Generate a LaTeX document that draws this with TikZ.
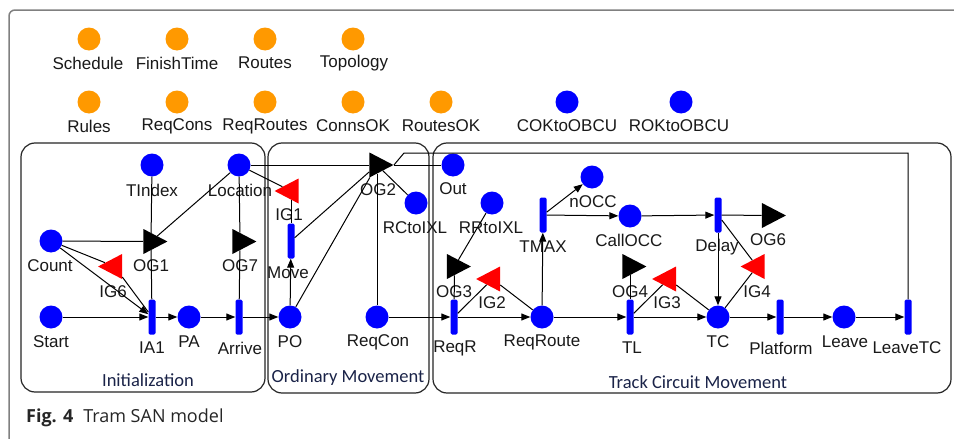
\documentclass[tikz,border=0pt]{standalone}
\usepackage{fontspec}
\setmainfont{Liberation Sans}
\newfontfamily\secfont{Carlito}
\newfontfamily\capfont{Open Sans}
\usetikzlibrary{shapes.geometric,arrows.meta}
\definecolor{pblue}{HTML}{0000FF}
\definecolor{porange}{HTML}{FF9900}
\definecolor{gred}{HTML}{FF0000}
\definecolor{secc}{HTML}{1A2348}
\definecolor{framec}{HTML}{808080}
\begin{document}
\begin{tikzpicture}[x=1pt,y=-1pt,
  place/.style={circle,fill=pblue,minimum size=23pt,inner sep=0pt},
  oplace/.style={circle,fill=porange,minimum size=23pt,inner sep=0pt},
  actbar/.style={rectangle,rounded corners=1.5pt,fill=pblue,minimum width=7pt,minimum height=35pt,inner sep=0pt},
  ogate/.style={isosceles triangle,isosceles triangle stretches,fill=black,minimum width=25pt,minimum height=24pt,inner sep=0pt,shape border rotate=0},
  igate/.style={ogate,fill=gred,shape border rotate=180},
  lbl/.style={font=\fontsize{17}{20}\selectfont,text=black!90,inner sep=0pt},
  sec/.style={font=\secfont\fontsize{18.5}{21}\selectfont,text=secc,inner sep=0pt},
  wire/.style={draw=black,line width=1pt},
  arr/.style={wire,-{Triangle[length=9pt,width=7pt]}},
  box/.style={draw=black!85,line width=1.2pt,rounded corners=14pt}
]
\useasboundingbox (0,0) rectangle (954,439);
\fill[white] (0,0) rectangle (954,439);
% outer frame
\draw[framec,line width=1.5pt,rounded corners=6pt] (9,439) -- (9,10) -- (954,10);
% section boxes
\draw[box] (21,143) rectangle (265,392);
\draw[box] (268,143) rectangle (429,393);
\draw[box] (433,143) rectangle (951,393);
\node[sec] (secInit) at (148,380) {Initialization};
\node[sec] (secOrd) at (348,378) {Ordinary Movement};
\node[sec] (secTrack) at (698,382) {Track Circuit Movement};

% orange shared places
\node[oplace] (Schedule) at (89,39) {};
\node[oplace] (FinishTime) at (177,39) {};
\node[oplace] (Routes) at (265,39) {};
\node[oplace] (Topology) at (353,39) {};
\node[oplace] (Rules) at (89,102) {};
\node[oplace] (ReqCons) at (177,102) {};
\node[oplace] (ReqRoutes) at (265,102) {};
\node[oplace] (ConnsOK) at (353,102) {};
\node[oplace] (RoutesOK) at (441,102) {};
\node[place] (COKtoOBCU) at (567,102) {};
\node[place] (ROKtoOBCU) at (681,102) {};
\node[lbl] (lSchedule) at (88,63) {Schedule};
\node[lbl] (lFinishTime) at (177,63) {FinishTime};
\node[lbl] (lRoutes) at (265,63) {Routes};
\node[lbl] (lTopology) at (354,63) {Topology};
\node[lbl] (lRules) at (89,126) {Rules};
\node[lbl] (lReqCons) at (177,126) {ReqCons};
\node[lbl] (lReqRoutes) at (265,126) {ReqRoutes};
\node[lbl] (lConnsOK) at (353,126) {ConnsOK};
\node[lbl] (lRoutesOK) at (441,126) {RoutesOK};
\node[lbl] (lCOKtoOBCU) at (567,126) {COKtoOBCU};
\node[lbl] (lROKtoOBCU) at (679,126) {ROKtoOBCU};

% places
\node[place] (TIndex) at (152,165) {};
\node[place] (Location) at (239,165) {};
\node[place] (Count) at (51,241) {};
\node[place] (Start) at (51,317) {};
\node[place] (PA) at (189,317) {};
\node[place] (PO) at (290,317) {};
\node[place] (ReqCon) at (377,317) {};
\node[place] (Out) at (453,165) {};
\node[place] (RCtoIXL) at (416,203) {};
\node[place] (RRtoIXL) at (492,203) {};
\node[place] (nOCC) at (592,177) {};
\node[place] (CallOCC) at (630,216) {};
\node[place] (ReqRoute) at (542,317) {};
\node[place] (TC) at (718,317) {};
\node[place] (Leave) at (844,317) {};

% activities
\node[actbar] (IA1) at (152,317) {};
\node[actbar] (Arrive) at (239,317) {};
\node[actbar] (Move) at (291,241) {};
\node[actbar] (ReqR) at (454,317) {};
\node[actbar] (TMAX) at (543,215) {};
\node[actbar] (Delay) at (718,215) {};
\node[actbar] (TL) at (630,317) {};
\node[actbar] (Platform) at (780,317) {};
\node[actbar] (LeaveTC) at (908,317) {};

% gates
\node[ogate] (OG1) at (151,241.5) {};
\node[ogate] (OG7) at (240,241.5) {};
\node[igate] (IG6) at (114.5,266.5) {};
\node[igate] (IG1) at (291,191) {};
\node[ogate] (OG2) at (377,165) {};
\node[ogate] (OG3) at (454.5,266.5) {};
\node[igate] (IG2) at (492.5,279) {};
\node[ogate] (OG4) at (630,266.5) {};
\node[igate] (IG3) at (668.5,279) {};
\node[ogate] (OG6) at (769.5,215.5) {};
\node[igate] (IG4) at (757,266.5) {};

% labels
\node[lbl] (lTIndex) at (152,190) {TIndex};
\node[lbl] (lLocation) at (240,190) {Location};
\node[lbl] (lCount) at (50,266) {Count};
\node[lbl] (lOG1) at (151,266) {OG1};
\node[lbl] (lOG7) at (240,266) {OG7};
\node[lbl] (lIG6) at (113,292) {IG6};
\node[lbl] (lIG1) at (289,215) {IG1};
\node[lbl] (lMove) at (288,273) {Move};
\node[lbl] (lStart) at (51,342) {Start};
\node[lbl] (lIA1) at (152,348) {IA1};
\node[lbl] (lPA) at (189,342) {PA};
\node[lbl] (lArrive) at (240,348) {Arrive};
\node[lbl] (lPO) at (290,342) {PO};
\node[lbl] (lReqCon) at (378,342) {ReqCon};
\node[lbl] (lOG2) at (378,190) {OG2};
\node[lbl] (lOut) at (453,189) {Out};
\node[lbl] (lRCtoIXL) at (415,228) {RCtoIXL};
\node[lbl] (lRRtoIXL) at (491,228) {RRtoIXL};
\node[lbl] (lOG3) at (454,292) {OG3};
\node[lbl] (lIG2) at (492,303) {IG2};
\node[lbl] (lReqR) at (455,348) {ReqR};
\node[lbl] (lReqRoute) at (542,342) {ReqRoute};
\node[lbl] (lTMAX) at (543,247) {TMAX};
\node[lbl] (lnOCC) at (593,202) {nOCC};
\node[lbl] (lCallOCC) at (629,240) {CallOCC};
\node[lbl] (lDelay) at (717,247) {Delay};
\node[lbl] (lOG6) at (768,240) {OG6};
\node[lbl] (lOG4) at (630,292) {OG4};
\node[lbl] (lIG3) at (667,303) {IG3};
\node[lbl] (lIG4) at (757,292) {IG4};
\node[lbl] (lTL) at (632,348) {TL};
\node[lbl] (lTC) at (718,342) {TC};
\node[lbl] (lPlatform) at (781,348) {Platform};
\node[lbl] (lLeave) at (845,342) {Leave};
\node[lbl] (lLeaveTC) at (907,348) {LeaveTC};

% connectors - initialization
\draw[wire] (IA1) -- (OG1);
\draw[wire] (OG1) -- (TIndex);
\draw[wire] (Count) -- (OG1);
\draw[wire] (OG1) -- (Location);
\draw[wire] (Count) -- (IG6);
\draw[wire] (IG6) -- (IA1);
\draw[arr] (Count) -- (IA1);
\draw[arr] (Start) -- (IA1);
\draw[arr] (IA1) -- (PA);
\draw[arr] (PA) -- (Arrive);
\draw[arr] (Arrive) -- (PO);
\draw[wire] (Arrive) -- (OG7);
\draw[wire] (OG7) -- (Location);
% ordinary movement
\draw[wire] (Location) -- (IG1);
\draw[wire] (IG1) -- (Move);
\draw[arr] (PO) -- (Move);
\draw[wire] (Move) -- (OG2);
\draw[wire] (PO) -- (OG2);
\draw[wire] (Location) -- (OG2);
\draw[wire] (OG2) -- (Out);
\draw[wire] (OG2) -- (ReqCon);
\draw[wire] (OG2) -- (RCtoIXL);
\coordinate (cTop1) at (404,153);
\coordinate (cTop2) at (908,153);
\draw[wire] (OG2.apex) -- (cTop1) -- (cTop2) -- (LeaveTC);
% track circuit
\draw[arr] (ReqCon) -- (ReqR);
\draw[wire] (ReqR) -- (OG3);
\draw[wire] (OG3) -- (RRtoIXL);
\draw[wire] (ReqR) -- (IG2);
\draw[wire] (IG2) -- (ReqRoute);
\draw[arr] (ReqR) -- (ReqRoute);
\draw[arr] (ReqRoute) -- (TMAX);
\draw[arr] (TMAX) -- (nOCC);
\draw[arr] (TMAX) -- (CallOCC);
\draw[arr] (CallOCC) -- (Delay);
\draw[wire] (Delay) -- (OG6);
\draw[arr] (Delay) -- (TC);
\draw[wire] (Delay) -- (IG4);
\draw[wire] (IG4) -- (TC);
\draw[arr] (ReqRoute) -- (TL);
\draw[wire] (TL) -- (OG4);
\draw[wire] (TL) -- (IG3);
\draw[wire] (IG3) -- (TC);
\draw[arr] (TL) -- (TC);
\draw[arr] (TC) -- (Platform);
\draw[arr] (Platform) -- (Leave);
\draw[arr] (Leave) -- (LeaveTC);

% caption
\node[anchor=west,inner sep=0pt,text=black!85,font=\capfont\fontsize{18}{21}\selectfont] (caption) at (26,418) {\textbf{Fig. 4}\hspace{0.55em}Tram SAN model};
\end{tikzpicture}
\end{document}
